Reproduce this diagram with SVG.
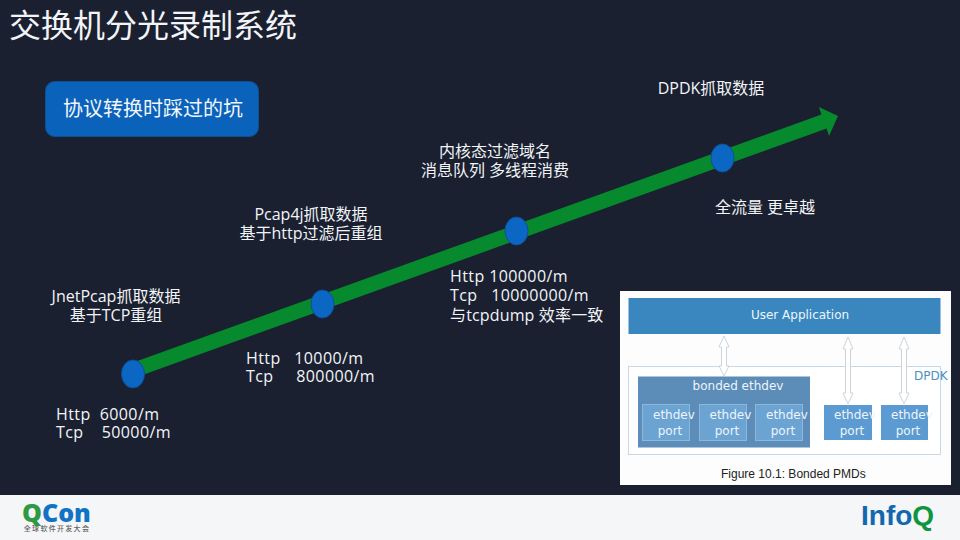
<svg xmlns="http://www.w3.org/2000/svg" width="960" height="540" viewBox="0 0 960 540">
<defs>
<style>
.t{font-family:"Open Sans","Noto Sans CJK SC",sans-serif;fill:#f2f4f7;font-size:16px;white-space:pre}
.m{letter-spacing:.4px}
.c{text-anchor:middle}
.cn{font-family:"Noto Sans CJK SC",sans-serif}
.dot{fill:#0c66c4;stroke:#0d4f96;stroke-width:1}
.port{stroke:#8fb8d8;stroke-width:1}
.pt{font-family:"DejaVu Sans",sans-serif;font-size:12px;fill:#eef4fa;text-anchor:middle}
.ps{font-family:"DejaVu Sans",sans-serif;font-size:12px;fill:#eef4fa}
.dbl{fill:#fff;stroke:#ccd5de;stroke-width:1}
</style>
</defs>
<rect width="960" height="540" fill="#1a2030"/>
<rect y="495" width="960" height="45" fill="#f5f6f7"/>
<text x="9" y="37" class="cn" font-size="32" fill="#f2f4f7">交换机分光录制系统</text>
<g id="button">
<rect x="45.500" y="81.500" width="213" height="55" rx="9" fill="#0a62bb" stroke="#0d4f8f"/>
<text x="153" y="116" class="cn c" font-size="20" fill="#f2f6fa">协议转换时踩过的坑</text>
</g>
<g id="connectors">
<polygon points="130.400,363.500 821.400,114.500 819,107 838,116 829,136 826.600,128.500 135.600,377.500" fill="#078a2d"/>
</g>
<g id="n1"><ellipse class="dot" cx="133" cy="374" rx="11.500" ry="14"/>
<text class="t c" x="116" y="302">JnetPcap抓取数据</text><text class="t c" x="116" y="321">基于TCP重组</text>
<text class="t m" x="56" y="420">Http  6000/m</text><text class="t m" x="56" y="438">Tcp    50000/m</text></g>
<g id="n2"><ellipse class="dot" cx="322.500" cy="304" rx="11.500" ry="14"/>
<text class="t c" x="311" y="220">Pcap4j抓取数据</text><text class="t c" x="311" y="239">基于http过滤后重组</text>
<text class="t m" x="246" y="364">Http   10000/m</text><text class="t m" x="246" y="382">Tcp     800000/m</text></g>
<g id="n3"><ellipse class="dot" cx="516.500" cy="231" rx="11.500" ry="14"/>
<text class="t c" x="495" y="157">内核态过滤域名</text><text class="t c" x="495" y="176">消息队列 多线程消费</text>
<text class="t m" x="450" y="282">Http 100000/m</text><text class="t m" x="450" y="301">Tcp   10000000/m</text><text class="t" x="450" y="321" letter-spacing=".15">与tcpdump 效率一致</text></g>
<g id="n4"><ellipse class="dot" cx="722.500" cy="158" rx="11.500" ry="14"/>
<text class="t c" x="711" y="94">DPDK抓取数据</text>
<text class="t c" x="765" y="213">全流量 更卓越</text></g>
<g id="figure">
<rect x="620" y="291" width="331" height="194" fill="#fdfdfd"/>
<rect x="628.500" y="298" width="312" height="36" fill="#3a87c0"/>
<text x="800" y="319" font-family="DejaVu Sans,sans-serif" font-size="12" fill="#eef5fb" text-anchor="middle">User Application</text>
<rect x="628.500" y="366.500" width="312" height="88" fill="#fff" stroke="#c9d8e3"/>
<text x="914" y="380" font-family="DejaVu Sans,sans-serif" font-size="12" fill="#4a8fc4">DPDK</text>
<rect x="638" y="376.500" width="172" height="71" fill="#5b8db8"/>
<text x="738" y="390" class="pt">bonded ethdev</text>
<g id="p1"><rect class="port" x="642.500" y="404.500" width="47" height="36" fill="#6ba3d3"/><text class="ps" x="653" y="419">ethdev</text><text class="pt" x="670" y="435">port</text></g>
<g id="p2"><rect class="port" x="699.500" y="404.500" width="47" height="36" fill="#6ba3d3"/><text class="ps" x="709.500" y="419">ethdev</text><text class="pt" x="727" y="435">port</text></g>
<g id="p3"><rect class="port" x="755.500" y="404.500" width="47" height="36" fill="#6ba3d3"/><text class="ps" x="766" y="419">ethdev</text><text class="pt" x="783" y="435">port</text></g>
<g id="p4"><rect x="824" y="405" width="48" height="35" fill="#5c9bd1"/><text class="ps" x="834" y="419">ethdev</text><text class="pt" x="852" y="435">port</text></g>
<g id="p5"><rect x="881" y="405" width="47" height="35" fill="#5c9bd1"/><text class="ps" x="891" y="419">ethdev</text><text class="pt" x="908" y="435">port</text></g>
<polygon class="dbl" points="724,336 729,347 726.500,347 726.500,366 729,366 724,376 719,366 721.500,366 721.500,347 719,347"/>
<polygon class="dbl" points="848,337 853,349 850.500,349 850.500,393 853,393 848,404 843,393 845.500,393 845.500,349 843,349"/>
<polygon class="dbl" points="904,337 909,349 906.500,349 906.500,393 909,393 904,404 899,393 901.500,393 901.500,349 899,349"/>
<text x="721" y="478" font-family="Liberation Sans,sans-serif" font-size="12" fill="#222">Figure 10.1: Bonded PMDs</text>
</g>
<g id="qcon">
<text x="22" y="522" font-family="Open Sans,sans-serif" font-weight="800" font-size="25"><tspan fill="#2e9a44">Q</tspan><tspan fill="#1273c4">Con</tspan></text>
<text x="57" y="531" class="cn c" font-size="7" font-weight="500" fill="#666" letter-spacing="1.300">全球软件开发大会</text>
</g>
<g id="infoq">
<text x="861" y="525" font-family="Liberation Sans,sans-serif" font-weight="700" font-size="28"><tspan fill="#1268ae">Info</tspan><tspan fill="#0f9440">Q</tspan></text>
</g>
</svg>
